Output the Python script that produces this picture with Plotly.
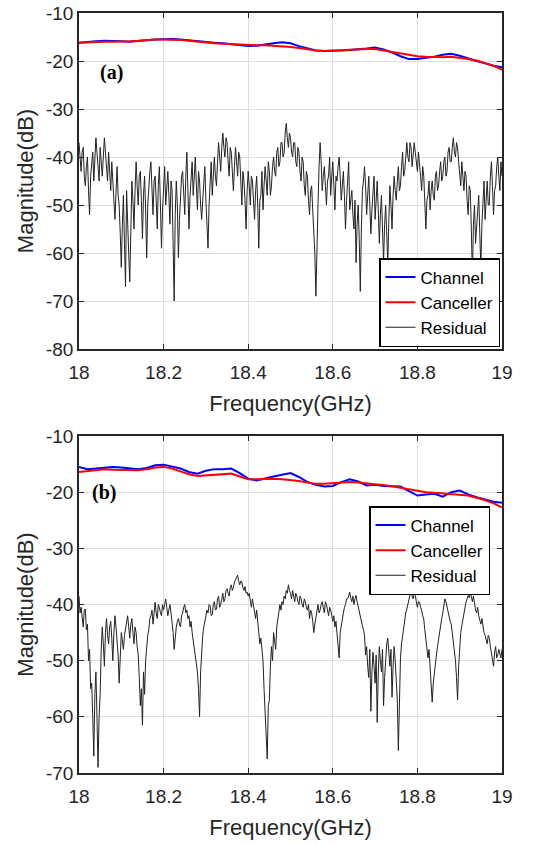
import numpy as np
import plotly.graph_objects as go

# ---------------- data ----------------
x_ticks = [18, 18.2, 18.4, 18.6, 18.8, 19]
x_tick_labels = ["18", "18.2", "18.4", "18.6", "18.8", "19"]
y_ticks_a = [-80, -70, -60, -50, -40, -30, -20, -10]
y_tick_labels_a = ["-80", "-70", "-60", "-50", "-40", "-30", "-20", "-10"]
y_ticks_b = [-70, -60, -50, -40, -30, -20, -10]
y_tick_labels_b = ["-70", "-60", "-50", "-40", "-30", "-20", "-10"]

# (a) channel / canceller, 18.00..19.00 step 0.02 GHz
channel_a = [-16.2, -16.0, -15.9, -15.8, -15.8, -15.9, -16.0, -15.9, -15.7, -15.5,
             -15.4, -15.4, -15.5, -15.7, -15.9, -16.1, -16.2, -16.3, -16.5, -16.8,
             -16.9, -16.8, -16.5, -16.3, -16.1, -16.3, -16.9, -17.4, -17.8, -17.9,
             -17.9, -17.8, -17.7, -17.6, -17.4, -17.2, -17.6, -18.2, -19.0, -19.6,
             -19.6, -19.3, -19.1, -18.7, -18.5, -18.9, -19.5, -20.0, -20.5, -21.0,
             -21.3]
canceller_a = [-16.2, -16.1, -16.0, -16.0, -16.0, -16.0, -15.9, -15.8, -15.6, -15.5,
               -15.5, -15.5, -15.6, -15.8, -16.0, -16.1, -16.3, -16.4, -16.5, -16.6,
               -16.6, -16.7, -16.7, -16.8, -17.0, -17.1, -17.3, -17.6, -17.8, -17.9,
               -17.8, -17.8, -17.7, -17.6, -17.5, -17.5, -17.8, -18.1, -18.5, -18.8,
               -19.0, -19.1, -19.2, -19.2, -19.1, -19.3, -19.6, -19.9, -20.4, -21.0,
               -21.8]
# (a) residual, 18.0000..19.0000 step 0.0025 GHz
residual_a = [
    -37, -41, -43, -39, -38, -44, -46, -42, -40, -47, -52, -44, -41, -39, -45, -40, -36, -39, -43, -45,
    -38, -41, -44, -40, -36, -39, -42, -45, -39, -43, -47, -41, -44, -49, -53, -46, -42, -48, -50, -56,
    -63, -54, -48, -58, -67, -47, -52, -60, -66, -50, -45, -49, -55, -47, -41, -46, -50, -44, -43, -49,
    -57, -48, -44, -51, -61, -50, -46, -43, -41, -47, -52, -45, -44, -49, -55, -46, -42, -50, -59, -51,
    -46, -42, -50, -47, -43, -48, -54, -45, -47, -58, -70, -52, -45, -50, -61, -53, -48, -44, -43, -47,
    -52, -44, -39, -47, -55, -48, -44, -41, -48, -43, -40, -46, -51, -43, -45, -50, -53, -49, -46, -42,
    -49, -53, -59, -50, -44, -41, -48, -43, -40, -44, -46, -41, -37, -40, -43, -38, -35, -38, -40, -36,
    -37, -41, -44, -38, -39, -43, -47, -42, -38, -41, -44, -39, -40, -45, -50, -43, -45, -49, -55, -47,
    -43, -46, -50, -44, -45, -49, -53, -47, -44, -50, -59, -49, -48, -43, -51, -46, -42, -45, -48, -41,
    -43, -48, -46, -42, -40, -43, -44, -39, -38, -42, -41, -37, -37, -40, -39, -35, -33, -36, -38, -35,
    -36, -39, -40, -37, -37, -41, -42, -38, -39, -43, -45, -40, -41, -46, -48, -43, -44, -49, -52, -47,
    -46, -51, -56, -60, -69, -57, -50, -42, -37, -41, -47, -44, -42, -46, -50, -45, -44, -40, -48, -44,
    -41, -46, -51, -44, -45, -42, -40, -44, -49, -46, -43, -48, -55, -49, -45, -41, -51, -48, -47, -52,
    -55, -49, -62, -54, -50, -57, -68, -55, -47, -45, -42, -46, -52, -48, -44, -50, -56, -51, -47, -44,
    -53, -49, -45, -51, -58, -52, -48, -55, -62, -54, -50, -56, -62, -53, -46, -50, -55, -48, -44, -47,
    -49, -45, -42, -47, -46, -42, -39, -44, -43, -40, -37, -40, -41, -37, -38, -42, -40, -37, -39, -42,
    -43, -39, -41, -44, -47, -42, -44, -50, -55, -49, -48, -45, -51, -47, -45, -48, -49, -44, -43, -47,
    -46, -43, -41, -45, -44, -41, -40, -44, -43, -39, -38, -41, -41, -38, -36, -39, -40, -37, -38, -41,
    -43, -46, -41, -44, -47, -43, -44, -49, -52, -46, -47, -55, -65, -54, -50, -58, -55, -50, -48, -56,
    -63, -54, -49, -45, -53, -49, -45, -50, -50, -44, -41, -46, -52, -47, -46, -42, -40, -44, -47, -41,
    -44]

# (b) channel / canceller, 18.00..19.00 step 0.02 GHz
channel_b = [-15.5, -15.9, -15.8, -15.6, -15.5, -15.6, -15.7, -15.9, -15.7, -15.2,
             -15.1, -15.4, -15.8, -16.4, -16.7, -16.2, -15.9, -15.9, -15.8, -16.6,
             -17.6, -17.9, -17.5, -17.2, -16.9, -16.6, -17.3, -18.2, -18.7, -19.0,
             -18.9, -18.2, -17.7, -18.1, -18.8, -18.7, -18.9, -19.0, -19.0, -19.8,
             -20.6, -20.4, -20.3, -20.8, -20.0, -19.7, -20.4, -20.9, -21.3, -21.7,
             -21.9]
canceller_b = [-16.4, -16.2, -16.0, -15.9, -16.0, -16.0, -16.0, -16.1, -15.9, -15.6,
               -15.5, -15.8, -16.3, -16.8, -17.1, -17.0, -16.8, -16.7, -16.7, -17.2,
               -17.7, -17.7, -17.6, -17.6, -17.7, -17.8, -18.0, -18.3, -18.5, -18.5,
               -18.4, -18.2, -18.2, -18.3, -18.5, -18.6, -18.7, -18.9, -19.2, -19.5,
               -19.8, -20.0, -20.1, -20.2, -20.3, -20.4, -20.6, -21.0, -21.4, -22.0,
               -22.7]
# (b) residual, 18.0000..19.0000 step 0.0025 GHz
residual_b = [
    -38.5, -41.5, -40.5, -42.0, -44.0, -41.0, -40.8, -44.5, -43.5, -50.0, -48.0, -55.0, -54.0, -60.0, -67.0, -56.0, -52.0, -60.0, -69.0, -60.0,
    -56.0, -48.0, -44.0, -47.0, -51.0, -45.0, -42.5, -45.5, -47.0, -44.0, -43.0, -46.0, -50.0, -45.0, -42.0, -44.0, -46.5, -49.0, -54.0, -48.0,
    -45.0, -46.5, -48.0, -45.5, -44.5, -43.0, -42.0, -44.0, -46.0, -43.5, -42.5, -45.0, -47.0, -44.0, -45.0, -47.5, -49.0, -53.0, -58.0, -55.0,
    -61.5, -52.0, -56.0, -50.0, -47.0, -45.5, -44.5, -42.5, -42.0, -41.0, -43.5, -41.0, -39.6, -41.5, -42.5, -40.0, -40.5, -41.5, -42.0, -40.0,
    -41.0, -40.0, -39.0, -40.5, -42.0, -41.0, -40.0, -41.5, -43.0, -45.0, -48.0, -45.5, -44.0, -43.0, -42.5, -43.5, -44.0, -42.0, -41.5, -40.5,
    -40.0, -41.5, -41.0, -42.5, -42.0, -44.0, -43.0, -45.0, -46.5, -47.5, -49.0, -51.0, -52.0, -55.0, -60.0, -52.0, -47.0, -45.5, -44.0, -43.0,
    -42.5, -41.0, -41.5, -40.0, -40.2, -42.0, -41.8, -40.0, -39.5, -41.0, -40.8, -39.0, -38.5, -40.5, -40.0, -38.5, -38.0, -39.5, -39.0, -37.5,
    -37.2, -38.0, -38.5, -37.0, -36.5, -37.5, -37.0, -36.0, -35.5, -35.0, -34.8, -35.8, -36.5, -35.8, -36.0, -37.0, -37.5, -36.8, -38.0, -37.8,
    -38.5, -38.0, -39.5, -40.5, -39.0, -40.0, -41.5, -42.5, -41.0, -43.0, -44.5, -47.0, -46.0, -48.5, -50.0, -55.0, -60.0, -62.0, -67.5, -58.0,
    -57.0, -51.0, -47.5, -50.0, -45.0, -46.5, -48.0, -44.0, -42.5, -41.0, -40.0, -41.0, -39.5, -40.0, -38.5, -39.0, -37.5, -38.0, -36.5, -37.5,
    -38.0, -39.0, -37.5, -38.5, -39.5, -38.0, -38.5, -39.5, -40.0, -38.5, -39.0, -40.0, -40.5, -39.0, -39.5, -40.5, -41.0, -40.0, -42.5, -41.0,
    -41.5, -43.0, -45.0, -43.5, -42.0, -41.0, -40.0, -41.5, -41.0, -40.0, -39.5, -40.5, -41.5, -39.5, -40.0, -41.0, -42.0, -40.5, -41.0, -42.0,
    -43.0, -42.0, -44.0, -43.0, -45.0, -47.0, -49.5, -45.0, -43.5, -42.5, -41.5, -40.5, -40.0, -39.0, -39.0, -38.5, -37.8, -38.8, -39.5, -38.5,
    -40.0, -39.0, -38.4, -39.5, -40.5, -41.5, -42.0, -43.0, -43.8, -44.5, -45.5, -49.0, -47.5, -51.0, -53.0, -48.0, -59.0, -52.0, -48.5, -51.0,
    -54.0, -49.0, -61.0, -52.0, -47.5, -50.0, -52.0, -48.0, -58.0, -53.0, -49.0, -47.0, -46.0, -49.5, -51.0, -48.0, -56.5, -51.0, -47.5, -50.0,
    -53.0, -57.0, -66.0, -55.0, -49.5, -47.0, -45.5, -44.0, -42.5, -41.5, -40.8, -40.0, -39.5, -38.5, -37.5, -38.5, -39.0, -38.0, -38.4, -39.5,
    -40.5, -39.5, -39.6, -40.5, -41.0, -42.0, -42.6, -44.5, -46.5, -48.0, -49.5, -48.0, -51.0, -53.0, -57.4, -54.0, -52.0, -50.5, -49.0, -47.5,
    -46.0, -44.5, -43.8, -42.5, -41.5, -40.0, -39.0, -39.5, -40.5, -41.0, -42.0, -43.0, -43.5, -45.0, -46.5, -48.0, -50.0, -53.0, -57.0, -51.0,
    -47.0, -45.0, -43.8, -42.5, -41.5, -40.5, -39.5, -39.0, -38.4, -38.8, -37.8, -38.5, -39.5, -38.5, -40.0, -41.0, -41.5, -40.5, -42.0, -43.0,
    -43.5, -42.5, -44.0, -45.0, -45.5, -46.5, -47.0, -45.5, -46.0, -47.5, -48.5, -50.0, -51.0, -48.5, -47.5, -49.5, -49.0, -48.0, -48.6, -49.5,
    -48.0]

# frequency grids (GHz)
f_smooth_a = np.linspace(18, 19, len(channel_a))
f_smooth_b = np.linspace(18, 19, len(channel_b))
f_res_a = np.linspace(18, 19, len(residual_a))
f_res_b = np.linspace(18, 19, len(residual_b))

# ---------------- figure ----------------
W, H = 557, 844
fig = go.Figure()

BLUE = "#0000ff"
RED = "#ff0000"
RES = "#222222"

def add_set(f_s, ch, ca, f_r, res, xa, ya, leg):
    fig.add_trace(go.Scatter(x=f_s, y=ch, mode="lines", name="Channel",
                             line=dict(color=BLUE, width=2), xaxis=xa, yaxis=ya, legend=leg))
    fig.add_trace(go.Scatter(x=f_s, y=ca, mode="lines", name="Canceller",
                             line=dict(color=RED, width=2), xaxis=xa, yaxis=ya, legend=leg))
    fig.add_trace(go.Scatter(x=f_r, y=res, mode="lines", name="Residual",
                             line=dict(color=RES, width=1), xaxis=xa, yaxis=ya, legend=leg))

add_set(f_smooth_a, channel_a, canceller_a, f_res_a, residual_a, "x", "y", "legend")
add_set(f_smooth_b, channel_b, canceller_b, f_res_b, residual_b, "x2", "y2", "legend2")

def px_x(p):
    return p / W

def px_y(p):
    return 1 - p / H

x_dom = [px_x(79), px_x(502)]
ya_dom = [px_y(349), px_y(13)]
yb_dom = [px_y(773), px_y(436)]

tick_font = dict(family="Liberation Sans, Arial, sans-serif", size=19, color="#262626")
title_font = dict(family="Liberation Sans, Arial, sans-serif", size=22, color="#262626")
legend_font = dict(family="Liberation Sans, Arial, sans-serif", size=17, color="#000000")

axis_common = dict(
    showline=True, linecolor="#262626", linewidth=1.5, mirror="ticks",
    ticks="inside", ticklen=5, tickwidth=1, tickcolor="#262626",
    showgrid=True, gridcolor="#dedede", gridwidth=1,
    zeroline=False, tickfont=tick_font, automargin=False,
)

fig.update_layout(
    width=W, height=H,
    margin=dict(l=0, r=0, t=0, b=0),
    paper_bgcolor="white", plot_bgcolor="white",
    xaxis=dict(domain=x_dom, range=[18, 19], tickvals=x_ticks, ticktext=x_tick_labels,
               anchor="y", ticklabelstandoff=5,
               title=dict(text="Frequency(GHz)", font=title_font, standoff=14),
               **axis_common),
    yaxis=dict(domain=ya_dom, range=[-80, -10], tickvals=y_ticks_a, ticktext=y_tick_labels_a,
               anchor="x", title=dict(text="Magnitude(dB)", font=title_font, standoff=6),
               **axis_common),
    xaxis2=dict(domain=x_dom, range=[18, 19], tickvals=x_ticks, ticktext=x_tick_labels,
                anchor="y2", ticklabelstandoff=5,
                title=dict(text="Frequency(GHz)", font=title_font, standoff=14),
                **axis_common),
    yaxis2=dict(domain=yb_dom, range=[-70, -10], tickvals=y_ticks_b, ticktext=y_tick_labels_b,
                anchor="x2", title=dict(text="Magnitude(dB)", font=title_font, standoff=6),
                **axis_common),
    legend=dict(x=px_x(500), y=px_y(347), xanchor="right", yanchor="bottom",
                bgcolor="white", bordercolor="#000000", borderwidth=1.5,
                font=legend_font, tracegroupgap=0, itemwidth=30),
    legend2=dict(x=px_x(490), y=px_y(506), xanchor="right", yanchor="top",
                 bgcolor="white", bordercolor="#000000", borderwidth=1.5,
                 font=legend_font, tracegroupgap=0, itemwidth=30),
    annotations=[
        dict(text="<b>(a)</b>", x=px_x(111), y=px_y(72), xref="paper", yref="paper",
             xanchor="center", yanchor="middle", showarrow=False,
             font=dict(family="Liberation Serif, Times New Roman, serif", size=20, color="#000000")),
        dict(text="<b>(b)</b>", x=px_x(104), y=px_y(492), xref="paper", yref="paper",
             xanchor="center", yanchor="middle", showarrow=False,
             font=dict(family="Liberation Serif, Times New Roman, serif", size=20, color="#000000")),
    ],
    showlegend=True,
)

fig.write_html("out.html", config={"displayModeBar": False},
               post_script="document.body.style.margin='0';")
